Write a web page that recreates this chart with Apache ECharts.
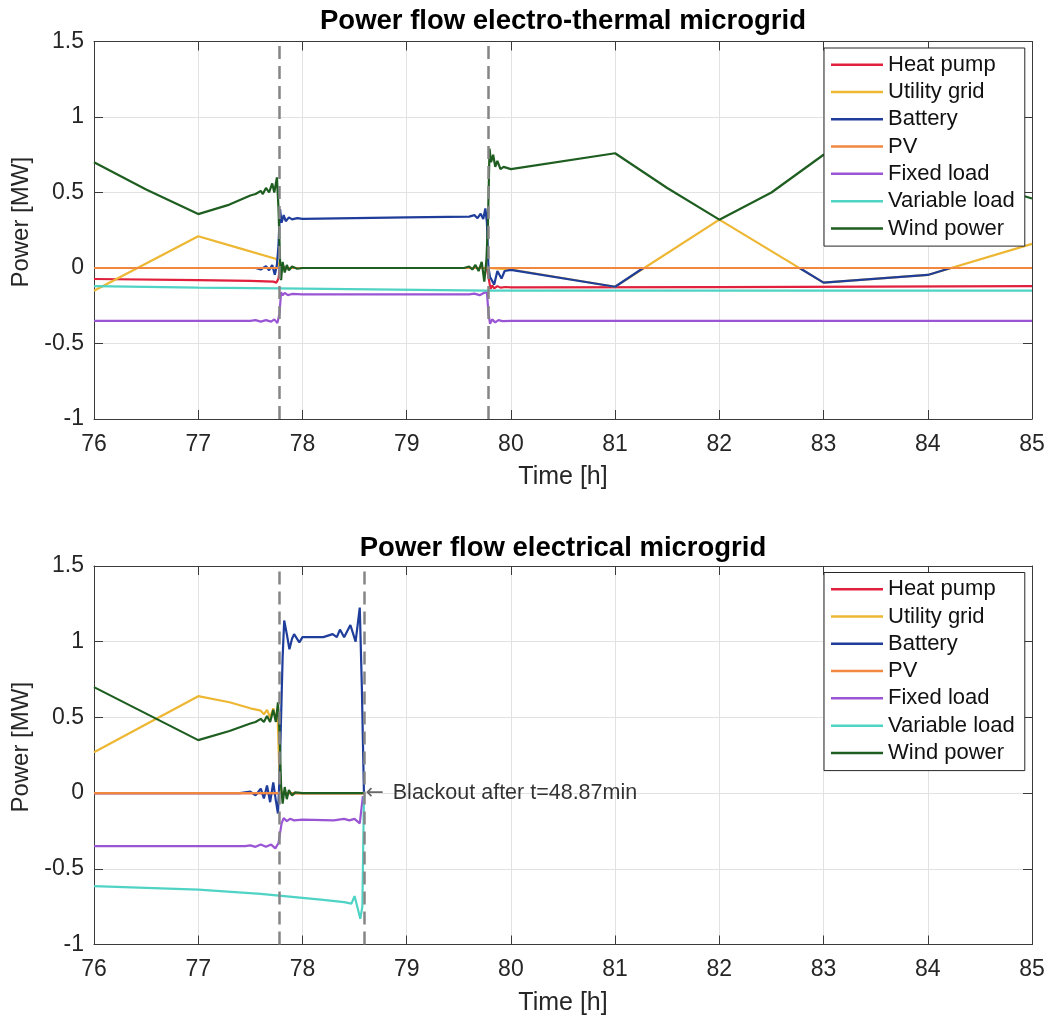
<!DOCTYPE html>
<html><head><meta charset="utf-8">
<script src="https://cdn.jsdelivr.net/npm/echarts@6/dist/echarts.min.js"></script>
<style>html,body{margin:0;padding:0;background:#fff}#c{width:1050px;height:1017px}</style>
</head><body><div id="c"></div>
<script>
// ---- labels ----
const seriesNames = ['Heat pump','Utility grid','Battery','PV','Fixed load','Variable load','Wind power'];
const seriesColors = ['#e0203c','#edb733','#1f3d9a','#f28840','#9a55d4','#4fd3c4','#1e5e20'];
const titles = ['Power flow electro-thermal microgrid','Power flow electrical microgrid'];
const xName = 'Time [h]';
const yName = 'Power [MW]';
const xRange = [76, 85];
const yRange = [-1, 1.5];
const eventsTop = [77.78, 79.78];
const eventsBot = [77.78, 78.59];
const blackoutPoint = [[78.59, 0]];
const blackoutArrow = '\u2190';
const blackoutText = 'Blackout after t=48.87min';

// ---- top plot (electro-thermal) ----
const hpTop = [[76,-0.073],[77,-0.08],[77.5,-0.085],[77.72,-0.09],[77.75,-0.097],[77.77,-0.07],[77.785,0.01],[77.8,-0.012],[77.82,0.006],[77.85,-0.003],[77.9,0],[79.77,0],[79.79,-0.08],[79.805,-0.14],[79.82,-0.115],[79.84,-0.135],[79.87,-0.12],[79.9,-0.13],[79.95,-0.126],[80,-0.128],[82,-0.126],[85,-0.12]];
const gridTop = [[76,-0.15],[77,0.21],[77.4,0.13],[77.75,0.06],[77.78,0],[79.78,0],[80,-0.01],[81,-0.124],[82,0.32],[83,-0.097],[84,-0.046],[85,0.16]];
const batTop = [[76,0],[77.55,0],[77.6,-0.01],[77.65,0.012],[77.68,-0.015],[77.71,0.02],[77.735,-0.045],[77.755,0.02],[77.77,0.15],[77.785,0.39],[77.8,0.3],[77.82,0.35],[77.84,0.31],[77.87,0.335],[77.9,0.322],[77.95,0.33],[78,0.325],[79,0.335],[79.6,0.34],[79.65,0.35],[79.68,0.33],[79.71,0.36],[79.735,0.325],[79.755,0.395],[79.77,0.3],[79.785,0.0],[79.8,-0.06],[79.84,-0.11],[79.87,-0.02],[79.88,-0.013],[79.91,-0.07],[79.94,-0.02],[80,-0.012],[81,-0.124],[81.27,0],[82.77,0],[83,-0.097],[84,-0.046],[84.22,0],[85,0]];
const pvTop = [[76,0],[85,0]];
const fixTop = [[76,-0.35],[77.5,-0.35],[77.55,-0.345],[77.6,-0.355],[77.65,-0.345],[77.7,-0.355],[77.73,-0.34],[77.76,-0.365],[77.78,-0.3],[77.795,-0.16],[77.81,-0.18],[77.83,-0.165],[77.86,-0.18],[77.9,-0.172],[78,-0.175],[79.6,-0.175],[79.65,-0.17],[79.7,-0.18],[79.74,-0.165],[79.77,-0.16],[79.785,-0.3],[79.8,-0.37],[79.82,-0.34],[79.85,-0.36],[79.88,-0.345],[79.92,-0.352],[80,-0.35],[85,-0.35]];
const varTop = [[76,-0.12],[77,-0.13],[77.78,-0.135],[79.78,-0.15],[85,-0.15]];
const windTop = [[76,0.70],[76.5,0.52],[77,0.357],[77.3,0.42],[77.5,0.48],[77.55,0.49],[77.6,0.51],[77.62,0.49],[77.65,0.53],[77.68,0.50],[77.71,0.56],[77.73,0.50],[77.755,0.6],[77.77,0.4],[77.785,0.05],[77.795,-0.08],[77.81,0.04],[77.83,-0.03],[77.85,0.02],[77.87,-0.015],[77.9,0.01],[77.95,-0.005],[78,0],[79.55,0],[79.6,0.01],[79.63,-0.01],[79.66,0.02],[79.69,-0.02],[79.72,0.04],[79.745,-0.09],[79.765,0.05],[79.78,0.3],[79.795,0.79],[79.81,0.7],[79.83,0.75],[79.85,0.67],[79.87,0.71],[79.9,0.655],[79.93,0.67],[80,0.655],[81,0.76],[81.5,0.53],[82,0.32],[82.5,0.5],[83,0.75],[84,0.67],[85,0.46]];

// ---- bottom plot (electrical) ----
const hpBot = [[76,0],[78.59,0]];
const gridBot = [[76,0.27],[77,0.64],[77.3,0.6],[77.5,0.56],[77.6,0.545],[77.63,0.52],[77.66,0.55],[77.69,0.5],[77.72,0.56],[77.745,0.48],[77.76,0.55],[77.78,0.1],[77.8,0],[78.59,0]];
const batBot = [[76,0],[77.4,0],[77.5,0.01],[77.55,-0.015],[77.6,0.03],[77.63,-0.035],[77.66,0.05],[77.69,-0.06],[77.72,0.07],[77.745,-0.05],[77.765,-0.135],[77.78,0.1],[77.81,0.9],[77.825,1.14],[77.85,1.05],[77.875,0.95],[77.9,1.02],[77.92,1.05],[77.97,0.995],[78,1.03],[78.2,1.03],[78.29,1.05],[78.33,1.03],[78.36,1.08],[78.4,1.03],[78.46,1.11],[78.51,1.0],[78.55,1.225],[78.57,0.7],[78.59,0]];
const pvBot = [[76,0],[78.59,0]];
const fixBot = [[76,-0.35],[77.45,-0.35],[77.5,-0.345],[77.55,-0.355],[77.6,-0.34],[77.65,-0.355],[77.7,-0.34],[77.74,-0.365],[77.77,-0.33],[77.8,-0.2],[77.82,-0.165],[77.85,-0.185],[77.88,-0.17],[77.92,-0.18],[78,-0.175],[78.3,-0.18],[78.4,-0.17],[78.45,-0.18],[78.5,-0.17],[78.55,-0.2],[78.58,-0.02]];
const varBot = [[76,-0.615],[77,-0.637],[77.6,-0.665],[78.2,-0.705],[78.4,-0.72],[78.47,-0.73],[78.5,-0.68],[78.53,-0.76],[78.555,-0.83],[78.575,-0.75],[78.59,-0.02]];
const windBot = [[76,0.70],[77,0.35],[77.3,0.41],[77.5,0.46],[77.55,0.47],[77.6,0.49],[77.63,0.47],[77.66,0.51],[77.69,0.47],[77.72,0.55],[77.745,0.47],[77.765,0.6],[77.78,0.4],[77.795,0.05],[77.81,-0.07],[77.83,0.04],[77.85,-0.04],[77.87,0.02],[77.9,-0.015],[77.93,0.005],[78,0],[78.59,0]];

const topData = [hpTop, gridTop, batTop, pvTop, fixTop, varTop, windTop];
const botData = [hpBot, gridBot, batBot, pvBot, fixBot, varBot, windBot];

// ---- styling / layout ----
const FONT = 'Liberation Sans, Arial, Helvetica, sans-serif';
const AX = '#3a3a3a';
const TXT = '#262626';
const grids = [
  {left: 94, right: 18, top: 41.5, height: 377.5},
  {left: 94, right: 18, top: 566, height: 378.5}
];

function xAxesFor(gi) {
  return [
    {type:'value', gridIndex:gi, min:xRange[0], max:xRange[1], interval:1, position:'bottom',
     axisLine:{show:true, onZero:false, lineStyle:{color:AX, width:1}},
     axisTick:{show:true, inside:true, length:9, lineStyle:{color:AX}},
     axisLabel:{fontSize:23, color:TXT, margin:14, fontFamily:FONT},
     splitLine:{show:true, lineStyle:{color:'#e2e2e2', width:1}},
     name:xName, nameLocation:'middle', nameGap:46,
     nameTextStyle:{fontSize:25, color:TXT, fontFamily:FONT}},
    {type:'value', gridIndex:gi, min:xRange[0], max:xRange[1], interval:1, position:'top',
     axisLine:{show:true, onZero:false, lineStyle:{color:AX, width:1}},
     axisTick:{show:true, inside:true, length:9, lineStyle:{color:AX}},
     axisLabel:{show:false}, splitLine:{show:false}}
  ];
}
function yAxesFor(gi) {
  return [
    {type:'value', gridIndex:gi, min:yRange[0], max:yRange[1], interval:0.5, position:'left',
     axisLine:{show:true, onZero:false, lineStyle:{color:AX, width:1}},
     axisTick:{show:true, inside:true, length:9, lineStyle:{color:AX}},
     axisLabel:{fontSize:23, color:TXT, margin:10, fontFamily:FONT},
     splitLine:{show:true, lineStyle:{color:'#e2e2e2', width:1}},
     name:yName, nameLocation:'middle', nameGap:50,
     nameTextStyle:{fontSize:24, color:TXT, fontFamily:FONT, padding:[0,0,0,16]}},
    {type:'value', gridIndex:gi, min:yRange[0], max:yRange[1], interval:0.5, position:'right',
     axisLine:{show:true, onZero:false, lineStyle:{color:AX, width:1}},
     axisTick:{show:true, inside:true, length:9, lineStyle:{color:AX}},
     axisLabel:{show:false}, splitLine:{show:false}}
  ];
}

const series = [];
[topData, botData].forEach(function (set, gi) {
  set.forEach(function (d, i) {
    series.push({
      name: seriesNames[i], type: 'line', data: d,
      xAxisIndex: gi*2, yAxisIndex: gi*2,
      symbol: 'none', showSymbol: false, smooth: false, clip: true,
      color: seriesColors[i],
      lineStyle: {width: 2.2, color: seriesColors[i]},
      emphasis: {disabled: true}
    });
  });
  const ev = gi === 0 ? eventsTop : eventsBot;
  series.push({
    type: 'line', data: [], xAxisIndex: gi*2, yAxisIndex: gi*2, z: 5,
    markLine: {
      silent: true, symbol: ['none','none'], animation: false,
      label: {show: false},
      lineStyle: {color: '#858585', width: 2.5, type: [13, 7]},
      data: ev.map(function (v) { return {xAxis: v}; })
    }
  });
});
series.push({
  type: 'scatter', data: blackoutPoint, xAxisIndex: 2, yAxisIndex: 2,
  symbol: 'circle', symbolSize: 1, itemStyle: {color: 'rgba(0,0,0,0)'}, z: 6,
  label: {show: true, position: 'right', distance: 1,
          formatter: '{a|' + blackoutArrow + '} {b|' + blackoutText + '}',
          rich: {
            a: {fontSize: 22, color: '#444', fontFamily: 'DejaVu Sans', width: 24},
            b: {fontSize: 21.5, color: '#000', fontFamily: FONT}
          }}
});

function legendFor(top) {
  return {
    data: seriesNames, orient: 'vertical', left: 824, top: top,
    icon: 'rect', itemWidth: 52, itemHeight: 2.5, itemGap: 0, padding: [3, 10, 4, 7],
    backgroundColor: '#fff', borderColor: '#262626', borderWidth: 1, borderRadius: 0,
    selectedMode: false, z: 10,
    textStyle: {fontSize: 22, lineHeight: 27.3, color: '#111', fontFamily: FONT}
  };
}

const chart = echarts.init(document.getElementById('c'), null, {renderer: 'canvas'});
chart.setOption({
  animation: false,
  backgroundColor: '#fff',
  title: [
    {text: titles[0], left: 563, top: 7, textAlign: 'center', padding: 0,
     textStyle: {fontSize: 27.5, fontWeight: 'bold', color: '#000', fontFamily: FONT}},
    {text: titles[1], left: 563, top: 534, textAlign: 'center', padding: 0,
     textStyle: {fontSize: 27.5, fontWeight: 'bold', color: '#000', fontFamily: FONT}}
  ],
  legend: [legendFor(48), legendFor(572.5)],
  grid: grids,
  xAxis: xAxesFor(0).concat(xAxesFor(1)),
  yAxis: yAxesFor(0).concat(yAxesFor(1)),
  series: series
});
</script>
</body></html>
